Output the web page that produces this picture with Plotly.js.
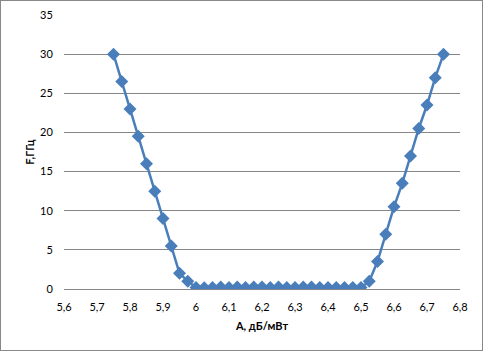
<!DOCTYPE html>
<html><head><meta charset="utf-8">
<script src="https://cdn.plot.ly/plotly-3.0.1.min.js"></script>
<style>html,body{margin:0;padding:0;background:#fff}#c{width:483px;height:351px;box-sizing:border-box;border:1px solid #888;}</style>
</head><body><div id="c"></div>
<script>
var xValues = [5.75,5.775,5.8,5.825,5.85,5.875,5.9,5.925,5.95,5.975,
  6.0,6.025,6.05,6.075,6.1,6.125,6.15,6.175,6.2,6.225,6.25,6.275,6.3,6.325,6.35,6.375,6.4,6.425,6.45,6.475,6.5,
  6.525,6.55,6.575,6.6,6.625,6.65,6.675,6.7,6.725,6.75];
var fValues = [30,26.5,23,19.5,16,12.5,9,5.5,2,1,
  0.2,0.15,0.2,0.25,0.2,0.25,0.2,0.25,0.25,0.2,0.25,0.2,0.2,0.25,0.25,0.2,0.2,0.2,0.2,0.2,0.2,
  1,3.5,7,10.5,13.5,17,20.5,23.5,27,30];
var xTitle = "А, дБ/мВт";
var yTitle = "F,ГГц";

Plotly.newPlot('c', [{
  x: xValues, y: fValues, type: 'scatter', mode: 'lines+markers',
  line: {color: '#4A7EBB', width: 2.5},
  marker: {symbol: 'diamond', size: 10, color: '#4A7EBB'},
  hoverinfo: 'none'
}], {
  width: 481, height: 349,
  margin: {l: 63, r: 22, t: 14, b: 61, pad: 0},
  paper_bgcolor: '#fff', plot_bgcolor: '#fff',
  separators: ', ',
  showlegend: false,
  font: {family: 'Lato, "Open Sans", sans-serif', size: 11, color: '#000'},
  xaxis: {
    range: [5.6, 6.8], dtick: 0.1, tick0: 5.6, tickformat: '.1~f',
    showgrid: false, zeroline: false, showline: true, linecolor: '#868686', linewidth: 1,
    ticks: 'outside', ticklen: 8, tickcolor: 'rgba(0,0,0,0)', tickfont: {size: 11},
    title: {text: xTitle, font: {size: 11, weight: 'bold'}, standoff: 10}
  },
  yaxis: {
    range: [0, 35], dtick: 5, tick0: 0,
    showgrid: true, gridcolor: '#868686', gridwidth: 1, zeroline: false, showline: false,
    ticks: 'outside', ticklen: 8, tickcolor: 'rgba(0,0,0,0)', tickfont: {size: 11},
    title: {text: yTitle, font: {size: 11, weight: 'bold'}, standoff: 3}
  }
}, {displayModeBar: false, staticPlot: true});
</script></body></html>
